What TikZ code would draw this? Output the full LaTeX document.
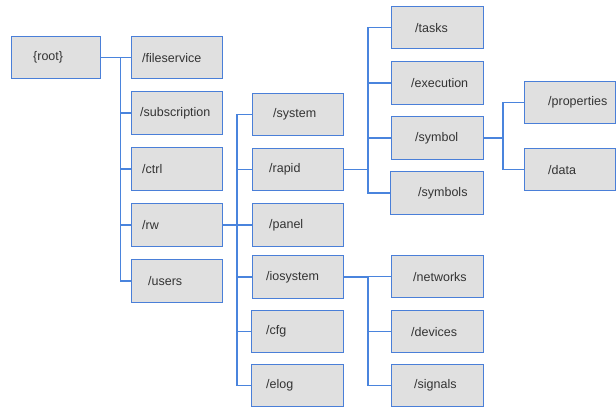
\documentclass[tikz,border=0pt]{standalone}
\usepackage{fontspec}
\setmainfont{Liberation Sans}
\definecolor{boxfill}{HTML}{E0E0E0}
\definecolor{boxline}{HTML}{4A7FD8}
\definecolor{conn}{HTML}{4A84DD}
\definecolor{txtc}{HTML}{333333}
\tikzset{
  box/.style={draw=boxline, fill=boxfill, line width=1.1pt, inner sep=0pt, anchor=north west},
  lbl/.style={anchor=west, inner sep=0pt, text=txtc, font=\fontsize{12.5}{15}\selectfont},
  link/.style={draw=conn, line width=1.2pt}
}
\newcommand{\mybox}[7]{%
  \node[box, minimum width={(#4-#2)*1pt}, minimum height={(#5-#3)*1pt}] (#1) at (#2,#3) {};
  \node[lbl] (#1-t) at ([xshift=#6pt]#1.west) {#7};
}
\begin{document}
\begin{tikzpicture}[x=1pt,y=-1pt]
\useasboundingbox[fill=white] (0,0) rectangle (616,407);
\mybox{root}{11}{36}{100}{78}{22}{\{root\}}
\mybox{fileservice}{131}{36}{222}{78}{11}{/fileservice}
\mybox{subscription}{131}{91}{222}{134}{9}{/subscription}
\mybox{ctrl}{131}{147}{222}{190}{11}{/ctrl}
\mybox{rw}{131}{203}{222}{246}{11}{/rw}
\mybox{users}{131}{259}{222}{302}{17}{/users}
\mybox{system}{252}{93}{343}{135}{21}{/system}
\mybox{rapid}{252}{148}{343}{190}{17}{/rapid}
\mybox{panel}{252}{203}{343}{246}{17}{/panel}
\mybox{iosystem}{252}{255}{343}{298}{14}{/iosystem}
\mybox{cfg}{251}{310}{343}{352}{15}{/cfg}
\mybox{elog}{251}{364}{343}{406}{15}{/elog}
\mybox{tasks}{391}{6}{483}{48}{24}{/tasks}
\mybox{execution}{391}{61}{483}{104}{20}{/execution}
\mybox{symbol}{391}{116}{483}{159}{24}{/symbol}
\mybox{symbols}{390}{171}{483}{214}{28}{/symbols}
\mybox{properties}{524}{81}{615}{123}{24}{/properties}
\mybox{data}{524}{148}{615}{190}{24}{/data}
\mybox{networks}{391}{255}{483}{297}{22}{/networks}
\mybox{devices}{391}{310}{483}{352}{20}{/devices}
\mybox{signals}{391}{364}{483}{406}{23}{/signals}
\coordinate (t1) at (120.5,0);
\coordinate (t2) at (237,0);
\coordinate (t3) at (368,0);
\coordinate (t4) at (503,0);
\coordinate (t5) at (368,0);
\foreach \c in {fileservice,subscription,ctrl,rw,users}
  \draw[link] (root.east) -| (t1 |- \c.west) -- (\c.west);
\foreach \c in {system,rapid,panel,iosystem,cfg,elog}
  \draw[link] (rw.east) -| (t2 |- \c.west) -- (\c.west);
\foreach \c in {tasks,execution,symbol,symbols}
  \draw[link] (rapid.east) -| (t3 |- \c.west) -- (\c.west);
\foreach \c in {properties,data}
  \draw[link] (symbol.east) -| (t4 |- \c.west) -- (\c.west);
\foreach \c in {networks,devices,signals}
  \draw[link] (iosystem.east) -| (t5 |- \c.west) -- (\c.west);
\end{tikzpicture}
\end{document}
